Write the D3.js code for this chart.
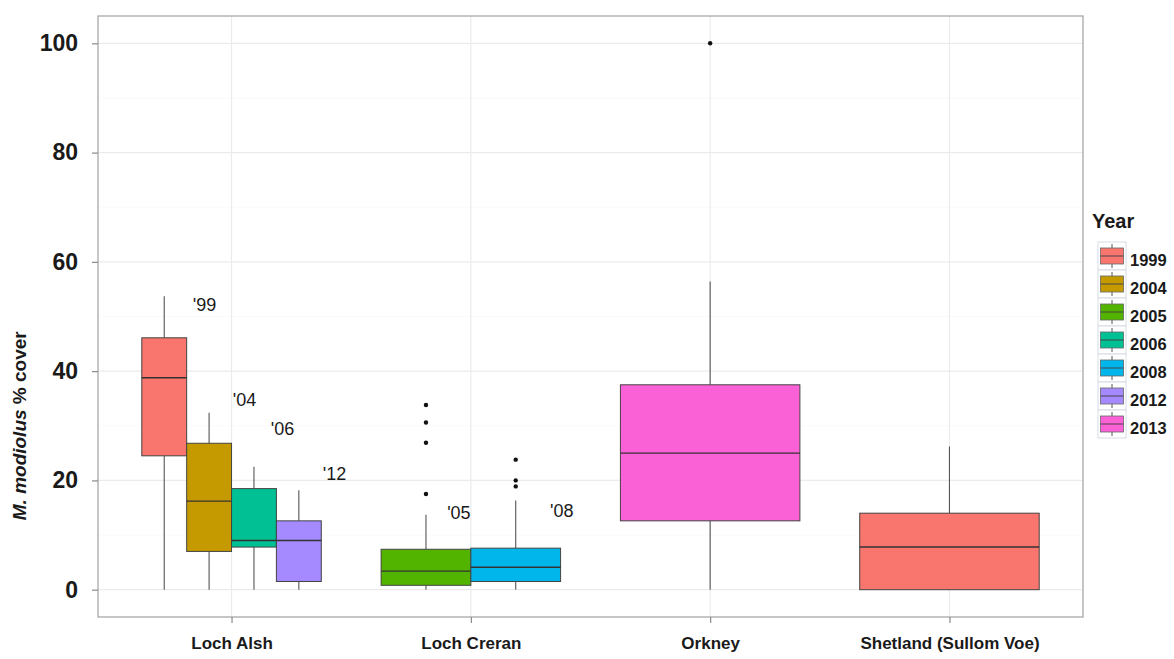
<!DOCTYPE html>
<html>
<head>
<meta charset="utf-8">
<script src="https://cdn.jsdelivr.net/npm/d3@7"></script>
<style>
  html, body { margin: 0; padding: 0; background: #fff; }
  svg { display: block; font-family: "Liberation Sans", Arial, sans-serif; }
</style>
</head>
<body>
<svg id="chart" width="1174" height="659"></svg>
<script>
// ---------- data ----------
const sites = ["Loch Alsh", "Loch Creran", "Orkney", "Shetland (Sullom Voe)"];
const years = ["1999", "2004", "2005", "2006", "2008", "2012", "2013"];
const yearColors = ["#F8766D", "#C49A00", "#53B400", "#00C094", "#00B6EB", "#A58AFF", "#FB61D7"];
const yTicks = [0, 20, 40, 60, 80, 100];

const boxSite   = ["Loch Alsh", "Loch Alsh", "Loch Alsh", "Loch Alsh", "Loch Creran", "Loch Creran", "Orkney", "Shetland (Sullom Voe)"];
const boxYear   = ["1999", "2004", "2006", "2012", "2005", "2008", "2013", "1999"];
const boxLow    = [0,    0,    0,    0,    0,    0,    0,    0];
const boxQ1     = [24.5, 7.0,  7.8,  1.5,  0.8,  1.5,  12.6, 0];
const boxMedian = [38.8, 16.2, 9.0,  9.0,  3.4,  4.1,  25.0, 7.8];
const boxQ3     = [46.1, 26.8, 18.5, 12.6, 7.4,  7.6,  37.5, 14.0];
const boxHigh   = [53.7, 32.4, 22.5, 18.2, 13.7, 16.3, 56.4, 26.2];
const boxOutliers = [[], [], [], [], [33.8, 30.6, 26.9, 17.5], [23.8, 20.0, 18.9], [100], []];

// year annotations (site, offset within site in category steps, value)
const annotText   = ["'99", "'04", "'06", "'12", "'05", "'08"];
const annotSite   = ["Loch Alsh", "Loch Alsh", "Loch Alsh", "Loch Alsh", "Loch Creran", "Loch Creran"];
const annotOffset = [-0.113, 0.054, 0.213, 0.43, -0.05, 0.38];
const annotValue  = [52.2, 34.7, 29.4, 21.2, 14.1, 14.4];

// ---------- layout ----------
const svg = d3.select("#chart");
const panel = { left: 98, right: 1083, top: 16, bottom: 617 };

const x = d3.scalePoint().domain(sites).range([panel.left, panel.right]).padding(0.558);
const step = x.step();
const y = d3.scaleLinear().domain([-5, 105]).range([panel.bottom, panel.top]);
const color = d3.scaleOrdinal().domain(years).range(yearColors);

const boxes = boxSite.map((s, i) => ({
  site: s, year: boxYear[i], low: boxLow[i], q1: boxQ1[i], med: boxMedian[i],
  q3: boxQ3[i], high: boxHigh[i], out: boxOutliers[i]
}));

// dodge scale per site
const dodge = {};
sites.forEach(s => {
  const ys = years.filter(yr => boxes.some(b => b.site === s && b.year === yr));
  dodge[s] = d3.scaleBand().domain(ys).range([-0.375 * step, 0.375 * step]).padding(0);
});

// panel background
svg.append("rect").attr("x", panel.left).attr("y", panel.top)
  .attr("width", panel.right - panel.left).attr("height", panel.bottom - panel.top)
  .attr("fill", "#fff");

// minor grid
const minor = d3.range(10, 101, 20);
svg.append("g").selectAll("line").data(minor).join("line")
  .attr("x1", panel.left).attr("x2", panel.right)
  .attr("y1", d => y(d)).attr("y2", d => y(d))
  .attr("stroke", "#fafafa").attr("stroke-width", 1);

// major grid
svg.append("g").selectAll("line").data(yTicks).join("line")
  .attr("x1", panel.left).attr("x2", panel.right)
  .attr("y1", d => y(d)).attr("y2", d => y(d))
  .attr("stroke", "#ebebeb").attr("stroke-width", 1.2);
svg.append("g").selectAll("line").data(sites).join("line")
  .attr("y1", panel.top).attr("y2", panel.bottom)
  .attr("x1", d => x(d)).attr("x2", d => x(d))
  .attr("stroke", "#ebebeb").attr("stroke-width", 1.2);

// boxes
const gBox = svg.append("g");
boxes.forEach(b => {
  const bw = dodge[b.site].bandwidth();
  const x0 = x(b.site) + dodge[b.site](b.year);
  const cx = x0 + bw / 2;
  const g = gBox.append("g");
  // whiskers
  g.append("line").attr("x1", cx).attr("x2", cx).attr("y1", y(b.q3)).attr("y2", y(b.high))
    .attr("stroke", "#555").attr("stroke-width", 1.1);
  g.append("line").attr("x1", cx).attr("x2", cx).attr("y1", y(b.q1)).attr("y2", y(b.low))
    .attr("stroke", "#555").attr("stroke-width", 1.1);
  // box
  g.append("rect").attr("x", x0).attr("y", y(b.q3))
    .attr("width", bw).attr("height", y(b.q1) - y(b.q3))
    .attr("fill", color(b.year)).attr("stroke", "#444").attr("stroke-width", 1);
  // median
  g.append("line").attr("x1", x0).attr("x2", x0 + bw).attr("y1", y(b.med)).attr("y2", y(b.med))
    .attr("stroke", "#333").attr("stroke-width", 1.4);
  // outliers
  g.selectAll("circle").data(b.out).join("circle")
    .attr("cx", cx).attr("cy", d => y(d)).attr("r", 2.2).attr("fill", "#111");
});

// panel border
svg.append("rect").attr("x", panel.left).attr("y", panel.top)
  .attr("width", panel.right - panel.left).attr("height", panel.bottom - panel.top)
  .attr("fill", "none").attr("stroke", "#a8a8a8").attr("stroke-width", 1.3);

// y axis
const yAxis = svg.append("g").attr("transform", `translate(${panel.left},0)`)
  .call(d3.axisLeft(y).tickValues(yTicks).tickSize(6).tickPadding(14).tickFormat(d3.format("d")));
yAxis.select(".domain").remove();
yAxis.selectAll(".tick line").attr("stroke", "#8a8a8a").attr("stroke-width", 1.2);
yAxis.selectAll(".tick text").attr("font-size", 23).attr("font-weight", "bold")
  .attr("fill", "#1a1a1a").attr("font-family", "Liberation Sans, Arial, sans-serif");

// x axis
const xAxis = svg.append("g").attr("transform", `translate(0,${panel.bottom})`)
  .call(d3.axisBottom(x).tickSize(6).tickPadding(14));
xAxis.select(".domain").remove();
xAxis.selectAll(".tick line").attr("stroke", "#8a8a8a").attr("stroke-width", 1.2);
xAxis.selectAll(".tick text").attr("font-size", 17).attr("font-weight", "bold")
  .attr("fill", "#1a1a1a").attr("font-family", "Liberation Sans, Arial, sans-serif");

// y axis title
const yt = svg.append("text")
  .attr("transform", `translate(26,${(y(0) + y(60)) / 2 + 0}) rotate(-90)`)
  .attr("text-anchor", "middle").attr("font-size", 19).attr("font-weight", "bold").attr("fill", "#1a1a1a");
yt.append("tspan").attr("font-style", "italic").text("M. modiolus");
yt.append("tspan").text(" % cover");

// annotations
svg.append("g").selectAll("text").data(annotText).join("text")
  .attr("x", (d, i) => x(annotSite[i]) + annotOffset[i] * step)
  .attr("y", (d, i) => y(annotValue[i]))
  .attr("dy", "0.35em")
  .attr("text-anchor", "middle").attr("font-size", 18).attr("fill", "#1a1a1a")
  .text(d => d);

// legend
const leg = svg.append("g");
leg.append("text").attr("x", 1092).attr("y", 228)
  .attr("font-size", 20).attr("font-weight", "bold").attr("fill", "#1a1a1a").text("Year");
const keyX = 1098, keyW = 28, keyH = 28, key0 = 242;
years.forEach((yr, i) => {
  const ky = key0 + i * keyH;
  const cx = keyX + keyW / 2, cy = ky + keyH / 2;
  leg.append("rect").attr("x", keyX).attr("y", ky).attr("width", keyW).attr("height", keyH)
    .attr("fill", "#fff").attr("stroke", "#d6dbe3").attr("stroke-width", 1);
  leg.append("line").attr("x1", cx).attr("x2", cx).attr("y1", cy - 12).attr("y2", cy + 12)
    .attr("stroke", "#555").attr("stroke-width", 1);
  leg.append("rect").attr("x", keyX + 2.5).attr("y", cy - 8).attr("width", keyW - 5).attr("height", 16)
    .attr("fill", color(yr)).attr("stroke", "#666").attr("stroke-width", 0.8);
  leg.append("line").attr("x1", keyX + 2.5).attr("x2", keyX + keyW - 2.5).attr("y1", cy).attr("y2", cy)
    .attr("stroke", "#444").attr("stroke-width", 1);
  leg.append("text").attr("x", keyX + keyW + 4).attr("y", cy + 4.5).attr("dy", "0.35em")
    .attr("font-size", 16.5).attr("font-weight", "bold").attr("fill", "#1a1a1a").text(yr);
});
</script>
</body>
</html>
